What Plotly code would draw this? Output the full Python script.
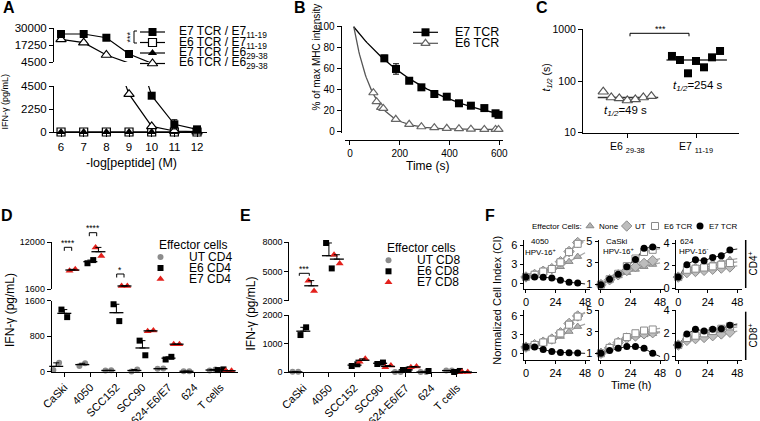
import numpy as np
import plotly.graph_objects as go

W, H = 760, 421
FONT = "Liberation Sans, Arial, Helvetica, sans-serif"
RED = "#e3211c"
GRAY = "#8c8c8c"

# ======================= DATA =======================
# Panel A : IFN-gamma vs -log[peptide]
a_conc = [6, 7, 8, 9, 10, 11, 12]
a_e7tcr_e7 = [25500, 25500, 22700, 10500, 3550, 750, 260]
a_e7tcr_e7_sem = [0, 0, 1500, 0, 0, 450, 0]
a_e6tcr_e7 = [0, 0, 0, 0, 0, 0, 0]
a_e7tcr_e6 = [0, 0, 0, 0, 0, 0, 0]
a_e6tcr_e6 = [21500, 19000, 9750, 3700, 550, 100, 30]
a_yticks_top = [4500, 17250, 30000]
a_yticks_bot = [0, 2250, 4500]
a_names = ["E7 TCR / E7<sub>11-19</sub>", "E6 TCR / E7<sub>11-19</sub>",
           "E7 TCR / E6<sub>29-38</sub>", "E6 TCR / E6<sub>29-38</sub>"]

# Panel B : MHC multimer decay
b_time_e7 = [138, 185, 238, 287, 339, 389, 438, 486, 540, 585, 597]
b_mhc_e7 = [69.7, 59.5, 48.2, 41.9, 35.5, 32.9, 26.6, 24.3, 22.0, 17.0, 15.5]
b_sem_e7 = [3, 5, 1.5, 1.5, 3, 2.5, 1.5, 1.5, 1.5, 1.5, 1.5]
b_time_e6 = [94, 107, 125, 134, 184, 238, 287, 339, 389, 438, 486, 540, 585, 597]
b_mhc_e6 = [36.7, 28.1, 22.7, 21.7, 11.2, 6.4, 4.1, 3.2, 2.6, 2.2, 1.8, 1.5, 1.5, 1.5]
b_xticks = [0, 200, 400, 600]
b_yticks = [0, 20, 40, 60, 80, 100]
b_names = ["E7 TCR", "E6 TCR"]

# Panel C : half-lives
c_groups = ["E6 <sub>29-38</sub>", "E7 <sub>11-19</sub>"]
c_e6 = [62, 48, 46, 42, 44, 48, 51]
c_e7 = [305, 255, 141, 244, 184, 287, 381]
c_labels = ["<i>t</i><sub><i>1/2</i></sub>=49 s", "<i>t</i><sub><i>1/2</i></sub>=254 s"]

# Panels D / E : IFN-gamma vs targets (two replicates each)
targets = ["CaSki", "4050", "SCC152", "SCC90", "624-E6/E7", "624", "T cells"]
d_ut = [[40, 200], [130, 190], [25, 30], [5, 50], [65, 70], [10, 10], [25, 50]]
d_e6 = [[1400, 1230], [7300, 8000], [1520, 1140], [700, 370], [275, 335], [None, None], [37, 52]]
d_e7 = [[5650, 5950], [10800, 8900], [2250, 2280], [910, 930], [620, 620], [None, None], [22, 22]]
d_names = ["UT CD4", "E6 CD4", "E7 CD4"]
d_yticks_top = [1600, 12000]
d_yticks_bot = [0, 800, 1600]
e_ut = [[15, 15], [None, None], [None, None], [None, None], [10, 10], [10, 10], [60, 60]]
e_e6 = [[1300, 1570], [7900, 5300], [220, 280], [290, 340], [80, 90], [45, None], [10, 47]]
e_e7 = [[4050, 3000], [6700, 5800], [370, 470], [175, 235], [175, 200], [None, None], [10, 10]]
e_names = ["UT CD8", "E6 CD8", "E7 CD8"]
e_yticks_top = [2000, 5000, 8000]
e_yticks_bot = [0, 1000, 2000]

# Panel F : normalized cell index (None, UT, E6 TCR, E7 TCR)
f_time = [0, 7, 14, 21, 28, 35, 42, 48]
f_cd4_4050 = [[1, 1.3, 1.7, 2.05, 2.6, 3.4, 4.2, 4.8],
              [1, 1.4, 1.9, 2.3, 3.4, 5.0, 6.4, 7.0],
              [1, 1.35, 1.85, 2.25, 3.3, 4.9, 6.2, 6.8],
              [1, 1.0, 0.95, 0.85, 0.5, 0.15, 0.05, -0.1]]
f_cd4_caski = [[1, 1.4, 1.8, 2.1, 2.4, 2.65, 2.85, 3.0],
               [1, 1.45, 1.9, 2.3, 2.65, 2.95, 3.2, 3.4],
               [1, 1.5, 2.0, 2.7, 3.4, 4.0, 4.2, 4.3],
               [1, 1.5, 1.95, 2.65, 3.3, 4.35, 4.45, 4.4]]
f_cd4_624 = [[1, 1.8, 1.95, 2.1, 2.25, 2.4, 2.55, 2.65],
             [1, 1.4, 1.5, 1.6, 1.7, 1.8, 1.9, 2.0],
             [1, 1.65, 1.75, 1.85, 1.95, 2.1, 2.25, 2.35],
             [1, 2.1, 2.55, 2.45, 2.75, 2.9, 3.4, 3.5]]
f_cd8_4050 = [[1, 1.3, 1.6, 2.0, 2.7, 3.5, 4.3, 4.7],
              [1, 1.4, 1.8, 2.3, 3.3, 4.8, 6.0, 6.6],
              [1, 1.35, 1.75, 2.2, 3.2, 4.6, 5.9, 6.5],
              [1, 1.0, 0.6, 0.3, 0.15, 0.1, 0.05, 0.0]]
f_cd8_caski = [[1, 1.5, 2.05, 2.4, 2.6, 2.7, 2.8, 2.9],
               [1, 1.5, 2.0, 2.4, 2.6, 2.8, 2.9, 3.0],
               [1, 1.5, 2.0, 2.5, 2.85, 3.1, 3.2, 3.3],
               [1, 1.25, 1.46, 1.62, 1.62, 1.46, 1.0, 0.7]]
f_cd8_624 = [[1, 1.7, 1.85, 2.0, 2.15, 2.3, 2.45, 2.55],
             [1, 1.4, 1.55, 1.65, 1.8, 1.95, 2.1, 2.2],
             [1, 1.6, 1.8, 2.0, 2.2, 2.4, 2.6, 2.7],
             [1, 1.95, 2.35, 2.2, 2.35, 2.4, 2.7, 2.8]]
f_names = ["None", "UT", "E6 TCR", "E7 TCR"]

# ======================= HELPERS =======================
def xd(a, b):
    return [a / W, b / W]


def yd(top, bottom):
    return [1 - bottom / H, 1 - top / H]


def ref(n):
    return "" if n == 1 else str(n)


layout = dict(width=W, height=H, margin=dict(l=0, r=0, t=0, b=0, autoexpand=False),
              paper_bgcolor="white", plot_bgcolor="rgba(0,0,0,0)",
              showlegend=False, font=dict(family=FONT, color="black"))
traces, annotations, shapes = [], [], []


def axis(dom, rng, size=10, **kw):
    d = dict(domain=dom, range=rng, showline=True, linecolor="black", linewidth=1,
             ticks="outside", ticklen=4, tickwidth=1, tickcolor="black",
             showgrid=False, zeroline=False, fixedrange=True,
             tickfont=dict(family=FONT, size=size, color="black"))
    d.update(kw)
    if "tickvals" in d and "ticktext" not in d and d.get("type") != "log":
        d["ticktext"] = [str(v) for v in d["tickvals"]]
    return d


def set_axes(n, xa, ya):
    xa.setdefault("anchor", "y" + ref(n))
    ya.setdefault("anchor", "x" + ref(n))
    layout["xaxis" + ref(n)] = xa
    layout["yaxis" + ref(n)] = ya


def sc(n, x, y, **kw):
    traces.append(go.Scatter(x=list(x), y=list(y), xaxis="x" + ref(n), yaxis="y" + ref(n),
                             hoverinfo="skip", showlegend=False, **kw))


def pts(n, x, y, lo, hi, marker, err_up=None, err_sym=None):
    x = np.asarray(x, float)
    y = np.asarray(y, float)
    m = np.isfinite(y) & (y >= lo) & (y <= hi)
    if not m.any():
        return
    kw = {}
    if err_sym is not None:
        e = np.asarray(err_sym, float)[m]
        kw["error_y"] = dict(type="data", array=list(e), color="black", thickness=1, width=3)
    if err_up is not None:
        e = np.asarray(err_up, float)[m]
        kw["error_y"] = dict(type="data", symmetric=False, array=list(e),
                             arrayminus=[0] * len(e), color="black", thickness=1, width=3)
    sc(n, x[m], y[m], mode="markers", marker=marker, cliponaxis=False, **kw)


def ann(x, y, text, size=10, xanchor="center", yanchor="middle", angle=0, color="black"):
    annotations.append(dict(x=x / W, y=1 - y / H, xref="paper", yref="paper", text=text,
                            showarrow=False, xanchor=xanchor, yanchor=yanchor, textangle=angle,
                            font=dict(family=FONT, size=size, color=color)))


def bracket(x0, x1, ytop, drop):
    X0, X1 = x0 / W, x1 / W
    Y0, Y1 = 1 - ytop / H, 1 - (ytop + drop) / H
    shapes.append(dict(type="path", xref="paper", yref="paper",
                       path=f"M{X0},{Y1} L{X0},{Y0} L{X1},{Y0} L{X1},{Y1}",
                       line=dict(color="black", width=1)))


def vline(x, y0, y1, width=1.5):
    shapes.append(dict(type="line", xref="paper", yref="paper", x0=x / W, x1=x / W,
                       y0=1 - y0 / H, y1=1 - y1 / H, line=dict(color="black", width=width)))


OV = 15  # pixel overlay axes for legend keys


def key(x, y, marker, line=None, x0=None, x1=None):
    if line is not None:
        sc(OV, [x0, x1], [y, y], mode="lines", line=line)
    sc(OV, [x], [y], mode="markers", marker=marker, cliponaxis=False)


# ======================= PANEL A =======================
ax_dom = xd(54, 207)
ax_rng = [5.69, 12.44]
set_axes(1, axis(ax_dom, ax_rng, visible=False),
         axis(yd(28, 62), [4500, 30000], size=11.5, tickvals=a_yticks_top))
set_axes(2, axis(ax_dom, ax_rng, size=11.5, tickvals=a_conc),
         axis(yd(86, 132), [0, 4500], size=11.5, tickvals=a_yticks_bot))

m_fsq = dict(symbol="square", size=8, color="black")
m_osq = dict(symbol="square", size=8, color="white", line=dict(color="black", width=1.2))
m_ftr = dict(symbol="triangle-up", size=8, color="black")
m_otr = dict(symbol="triangle-up", size=9, color="white", line=dict(color="black", width=1.2))
a_series = [(a_e6tcr_e7, m_osq, None), (a_e7tcr_e6, m_ftr, None),
            (a_e6tcr_e6, m_otr, None), (a_e7tcr_e7, m_fsq, a_e7tcr_e7_sem)]
for n, lo, hi in [(1, 4500, 30000), (2, 0, 4500)]:
    for ys, mk, err in a_series:
        sc(n, a_conc, ys, mode="lines", line=dict(color="black", width=1.2))
    for ys, mk, err in a_series:
        pts(n, a_conc, ys, lo, hi, mk, err_sym=err)

ann(9, 8, "<b>A</b>", size=16)
ann(4.5, 102, "IFN-γ (pg/mL)", size=9, angle=-90)
ann(131, 163, "-log[peptide] (M)", size=12.5)
a_leg_y = [32, 42.5, 53, 63.5]
a_leg_m = [m_fsq, m_osq, m_ftr, m_otr]
for yy, mk, nm in zip(a_leg_y, a_leg_m, a_names):
    key(152.5, yy, mk, line=dict(color="black", width=1.2), x0=140, x1=165)
    ann(177, yy, nm, size=12, xanchor="left")
shapes.append(dict(type="path", xref="paper", yref="paper",
                   path=f"M{137/W},{1-31/H} L{134/W},{1-31/H} L{134/W},{1-43/H} L{137/W},{1-43/H}",
                   line=dict(color="black", width=1)))
ann(129.5, 37, "***", size=9, angle=-90)

# ======================= PANEL B =======================
set_axes(3, axis(xd(345, 503), [-20, 615], size=10, tickvals=b_xticks,
                 anchor="free", position=1 - 140 / H),
         axis(yd(26, 133), [-1.9, 100.7], size=10, tickvals=b_yticks,
              anchor="free", position=340.7 / W))


def fit_curve(t, y, plateau):
    t = np.asarray(t, float)
    r = np.asarray(y, float) - plateau
    m, b = np.polyfit(t, np.log(r), 1, w=r)
    return m, b


def best_fit(t, y, plateaus):
    best = None
    for p in plateaus:
        if p >= min(y):
            continue
        m, b = fit_curve(t, y, p)
        pred = p + np.exp(m * np.asarray(t) + b)
        sse = float(np.sum((pred - np.asarray(y)) ** 2))
        if best is None or sse < best[0]:
            best = (sse, m, b, p)
    return best[1:]


for tt, yy, plats, col in [(b_time_e7, b_mhc_e7, [0.0], "black"),
                           (b_time_e6, b_mhc_e6, list(np.linspace(0, 1.45, 30)), "#555555")]:
    m, b, p = best_fit(tt, yy, plats)
    t0 = (np.log(100 - p) - b) / m
    tg = np.linspace(t0, max(tt), 200)
    sc(3, tg, p + np.exp(m * tg + b), mode="lines", line=dict(color=col, width=1.3))

m_b7 = dict(symbol="square", size=8, color="black")
m_b6 = dict(symbol="triangle-up", size=8, color="white", line=dict(color="#666666", width=1.2))
pts(3, b_time_e6, b_mhc_e6, -10, 200, m_b6)
pts(3, b_time_e7, b_mhc_e7, -10, 200, m_b7, err_sym=b_sem_e7)
key(425.5, 32.3, m_b7, line=dict(color="black", width=1.2), x0=413, x1=438)
key(425.5, 43.3, m_b6, line=dict(color="#555555", width=1.2), x0=413, x1=438)
ann(453, 32.3, b_names[0], size=12.5, xanchor="left")
ann(453, 43.3, b_names[1], size=12.5, xanchor="left")
ann(300, 7.5, "<b>B</b>", size=16)
ann(315.5, 57, "% of max MHC intensity", size=10, angle=-90)
ann(428, 166, "Time (s)", size=12)

# ======================= PANEL C =======================
set_axes(4, axis(xd(583, 739), [-0.645, 1.626], size=10.5, tickvals=[0, 1], ticktext=c_groups),
         axis(yd(29.3, 132.7), [1, 3], size=10.5, type="log", tickvals=[10, 100, 1000],
              ticktext=["10", "100", "1000"]))
for i, (vals, mk) in enumerate([(c_e6, dict(symbol="triangle-up", size=9, color="white",
                                                line=dict(color="#555555", width=1.2))),
                                (c_e7, dict(symbol="square", size=8, color="black"))]):
    med = float(np.median(vals))
    sc(4, [i - 0.43, i + 0.45], [med, med], mode="lines", line=dict(color="#333333", width=1.6))
    xs = i + np.linspace(-0.35, 0.35, len(vals))
    pts(4, xs, vals, 1, 1e6, mk)
ann(625, 110.7, c_labels[0], size=11.5)
ann(697, 86, c_labels[1], size=11.5)
bracket(630, 689, 33.3, 3)
ann(660, 29, "***", size=9)
ann(541.7, 7.5, "<b>C</b>", size=16)
ann(546.5, 78, "<i>t</i><sub><i>1/2</i></sub> (s)", size=10.5, angle=-90)

# ======================= PANELS D & E =======================
grp_off = [-0.31, 0.0, 0.31]
rep_off = [-0.11, 0.11]
m_ut = dict(symbol="circle", size=6, color=GRAY)
m_e6 = dict(symbol="square", size=6, color="black")
m_e7 = dict(symbol="triangle-up", size=7, color=RED)
m_mean = dict(symbol="line-ew", size=10, line=dict(color="black", width=1.3))


def dot_panel(ntop, nbot, brk, groups):
    for g, (data, mk) in enumerate(groups):
        for r in range(2):
            xs = [i + grp_off[g] + rep_off[r] for i in range(len(targets))]
            ys = [np.nan if d[r] is None else d[r] for d in data]
            pts(ntop, xs, ys, brk, 1e9, mk)
            pts(nbot, xs, ys, -1, brk, mk)
        means, sems, xs = [], [], []
        for i, d in enumerate(data):
            v = np.array([q for q in d if q is not None], float)
            if len(v) < 2:
                continue
            xs.append(i + grp_off[g])
            means.append(v.mean())
            sems.append(v.std(ddof=1) / np.sqrt(len(v)))
        pts(ntop, xs, means, brk, 1e9, m_mean, err_up=sems)
        pts(nbot, xs, means, -1, brk, m_mean, err_up=sems)


dx_rng = [-0.484, 6.668]
set_axes(5, axis(xd(51.7, 238), dx_rng, visible=False),
         axis(yd(242, 289), [1600, 12000], size=9, tickvals=d_yticks_top))
set_axes(6, axis(xd(51.7, 238), dx_rng, size=11, tickvals=list(range(len(targets))),
                 ticktext=targets, tickangle=-45),
         axis(yd(300.7, 371.7), [0, 1600], size=9, tickvals=d_yticks_bot))
dot_panel(5, 6, 1600, [(d_ut, m_ut), (d_e6, m_e6), (d_e7, m_e7)])

ex_rng = [-0.547, 6.77]
set_axes(7, axis(xd(289.3, 476.7), ex_rng, visible=False),
         axis(yd(242, 300.7), [2000, 8000], size=9, tickvals=e_yticks_top))
set_axes(8, axis(xd(289.3, 476.7), ex_rng, size=11, tickvals=list(range(len(targets))),
                 ticktext=targets, tickangle=-45),
         axis(yd(315, 372.3), [0, 2000], size=9, tickvals=e_yticks_bot))
dot_panel(7, 8, 2000, [(e_ut, m_ut), (e_e6, m_e6), (e_e7, m_e7)])

# legends D/E
for (lx, ly0, names) in [(157, 245, d_names), (385, 248.3, e_names)]:
    ann(lx, ly0, "Effector cells", size=12, xanchor="left")
    for k, (mk, nm) in enumerate(zip([m_ut, m_e6, m_e7], names)):
        yy = ly0 + 12 + 11 * k
        key(lx + 3.5, yy, mk)
        ann(lx + 30, yy, nm, size=12, xanchor="left")

bracket(64.3, 71.7, 247.3, 3.5)
ann(68, 243, "****", size=8.5)
bracket(89.3, 96.7, 232.7, 3.5)
ann(93, 228.3, "****", size=8.5)
bracket(116.7, 124, 274, 3.5)
ann(120.3, 269.5, "*", size=8.5)
bracket(299.3, 309.3, 273.3, 2.5)
ann(304.3, 269.3, "***", size=8.5)

ann(7, 215, "<b>D</b>", size=16)
ann(245, 215, "<b>E</b>", size=16)
ann(10, 310, "IFN-γ (pg/mL)", size=12, angle=-90)
ann(250.5, 314, "IFN-γ (pg/mL)", size=12, angle=-90)

# ======================= PANEL F =======================
f_cols = [xd(523.5, 590), xd(598.5, 665), xd(675.8, 742.2)]
f_rows = [yd(240, 289), yd(310, 360)]
f_yr = [[[-0.89, 6.8], [0.6, 5.1], [-0.06, 4.3]],
        [[-1.07, 6.96], [0.38, 5.0], [-0.28, 4.0]]]
f_yt = [[0, 3, 6], [1, 3, 5], [0, 2, 4]]
f_data = [[f_cd4_4050, f_cd4_caski, f_cd4_624], [f_cd8_4050, f_cd8_caski, f_cd8_624]]
f_mk = [dict(symbol="triangle-up", size=7, color="#b3b3b3", line=dict(color="#8a8a8a", width=1)),
        dict(symbol="diamond", size=8, color="#bdbdbd", line=dict(color="#8a8a8a", width=1)),
        dict(symbol="square", size=7, color="white", line=dict(color="#8a8a8a", width=1)),
        dict(symbol="circle", size=7, color="black")]
f_ln = [dict(color="#a6a6a6", width=1.3), dict(color="#a6a6a6", width=1.3),
        dict(color="#a6a6a6", width=1.3), dict(color="#222222", width=1)]
n = 9
for r in range(2):
    for c in range(3):
        set_axes(n, axis(f_cols[c], [-2, 52], size=11, tickvals=[0, 24, 48], ticklen=3),
                 axis(f_rows[r], f_yr[r][c], size=11, tickvals=f_yt[c], ticklen=3))
        for s in range(4):
            sc(n, f_time, f_data[r][c][s], mode="lines", line=f_ln[s])
        for s in range(4):
            pts(n, f_time[:-1], f_data[r][c][s][:-1], -5, 50, f_mk[s])
        n += 1

ann(540, 241.7, "4050", size=8)
ann(540, 251.7, "HPV-16<sup>+</sup>", size=8)
ann(617.3, 241, "CaSki", size=8)
ann(618.3, 251, "HPV-16<sup>+</sup>", size=8)
ann(686.7, 241, "624", size=8)
ann(694, 251, "HPV-16<sup>-</sup>", size=8)
ann(631.7, 385, "Time (h)", size=11)
ann(496.7, 300, "Normalized Cell Index (CI)", size=11, angle=-90)
ann(490, 215, "<b>F</b>", size=16)
vline(745.7, 240, 288)
vline(745.7, 311.7, 360)
ann(752.5, 264, "CD4<sup>+</sup>", size=10, angle=-90)
ann(752.5, 336, "CD8<sup>+</sup>", size=10, angle=-90)
ann(530, 226, "Effector Cells:", size=8, xanchor="left")
for xk, xt, mk, nm in zip([590, 626.7, 655, 700], [597, 633, 662, 707], f_mk, f_names):
    key(xk, 226, mk)
    ann(xt, 226, nm, size=8, xanchor="left")

# overlay pixel axes
set_axes(OV, dict(domain=[0, 1], range=[0, W], visible=False, fixedrange=True),
         dict(domain=[0, 1], range=[H, 0], visible=False, fixedrange=True))

layout["annotations"] = annotations
layout["shapes"] = shapes
fig = go.Figure(data=traces, layout=layout)
fig.write_html("out.html", config={"displayModeBar": False, "staticPlot": True},
               post_script="document.body.style.margin='0';document.body.style.overflow='hidden';")
